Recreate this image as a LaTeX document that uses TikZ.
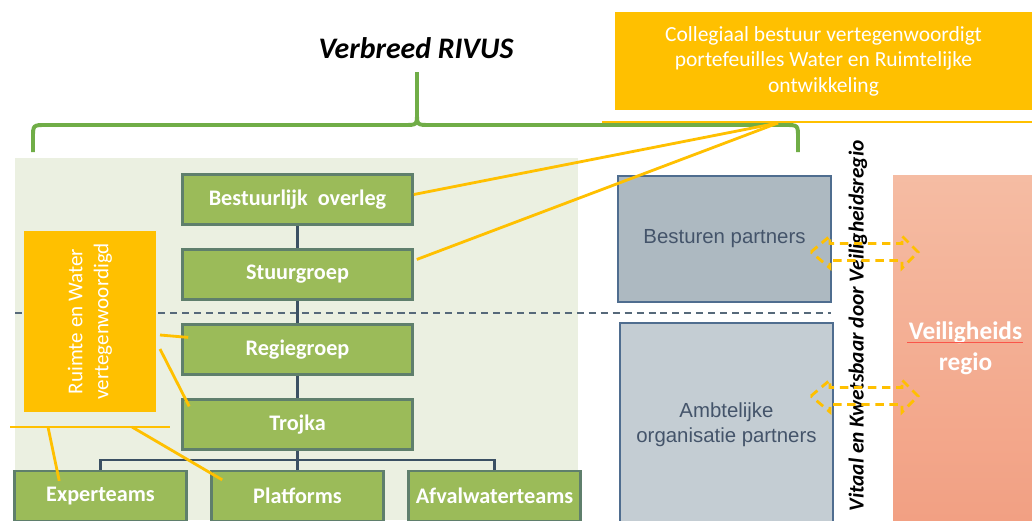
\documentclass[tikz,border=0pt]{standalone}
\usepackage{fontspec}
\setmainfont{Carlito}
\newfontfamily\arialfont{Liberation Sans}
\usepackage{xcolor}
\usetikzlibrary{arrows.meta, positioning, calc}

\definecolor{panelgreen}{HTML}{EBF0E1}
\definecolor{bracegreen}{HTML}{70AD47}
\definecolor{boxgreen}{HTML}{9BBB59}
\definecolor{boxline}{HTML}{5F7F6C}
\definecolor{linkslate}{HTML}{3B5063}
\definecolor{sepslate}{HTML}{56697A}
\definecolor{callyellow}{HTML}{FFC000}
\definecolor{partnerdark}{HTML}{ADB9C1}
\definecolor{partnerlight}{HTML}{C4CDD3}
\definecolor{partnerline}{HTML}{4F6D8F}
\definecolor{partnertext}{HTML}{44546A}
\definecolor{regiotop}{HTML}{F5BCA3}
\definecolor{regiobottom}{HTML}{F2A083}

\begin{document}
\begin{tikzpicture}[
  x=0.025cm, y=-0.025cm,
  node distance=5.6mm,
  orgbox/.style={
    rectangle,
    draw=boxline,
    line width=1.8pt,
    fill=boxgreen,
    text=white,
    font=\bfseries\fontsize{15.8}{18}\selectfont,
    minimum width=5.75cm,
    minimum height=1.25cm,
  },
  teambox/.style={
    orgbox,
    minimum width=4.3cm,
  },
  partner/.style={
    rectangle,
    draw=partnerline,
    line width=1.4pt,
    align=center,
    text=partnertext,
    font=\arialfont\fontsize{14.5}{18}\selectfont,
    minimum width=5.3cm,
  },
  callout/.style={
    rectangle,
    fill=callyellow,
    text=white,
    align=center,
    inner sep=0pt,
  },
  link/.style={draw=linkslate, line width=1.6pt},
  callline/.style={draw=callyellow, line width=2pt},
  brace/.style={draw=bracegreen, line width=2.8pt},
  sep/.style={draw=sepslate, line width=1.5pt, dash pattern=on 5pt off 3.5pt},
  dblarrow/.style={draw=callyellow, line width=2pt, dash pattern=on 6pt off 4pt},
]

\useasboundingbox[fill=white] (0,0) rectangle (1032,520);

% ===== BACKGROUND PANEL AND BRACE =====
\fill[panelgreen] (15,158) rectangle (578,520);

\node[font=\bfseries\itshape\fontsize{21.2}{25}\selectfont] (title) at (416,48) {Verbreed RIVUS};

\draw[brace] (33,152) -- (33,138) .. controls (33,125) .. (46,125) -- (404,125)
  .. controls (417,125) .. (417,113) -- (417,72);
\draw[brace] (417,113) .. controls (417,125) .. (430,125) -- (785,125)
  .. controls (798,125) .. (798,138) -- (798,152);

% dashed split between bestuurlijk and ambtelijk
\draw[sep] (15,313) -- (831,313);

% ===== ORGANISATION TREE =====
\node[orgbox] (bo) at (297.5,199.5) {Bestuurlijk\ \ overleg};
\node[orgbox, below=of bo] (sg) {Stuurgroep};
\node[orgbox, below=of sg] (rg) {Regiegroep};
\node[orgbox, below=of rg] (tj) {Trojka};

\node[teambox, below=4.8mm of tj] (pf) {Platforms};
\node[teambox, left=of pf] (ex) {Experteams};
\node[teambox, right=of pf] (aw) {Afvalwaterteams};

\draw[link] (bo) -- (sg);
\draw[link] (sg) -- (rg);
\draw[link] (rg) -- (tj);
\draw[link] (tj) -- (pf);
\coordinate (split) at ($(tj.south)!0.5!(pf.north)$);
\draw[link] (ex.north) |- (split) -| (aw.north);

% ===== PARTNERS AND VEILIGHEIDSREGIO =====
\node[partner, fill=partnerdark, minimum height=3.15cm] (bp) at (724.5,239) {Besturen partners};
\node[partner, fill=partnerlight, minimum height=5.1cm] (ao) at (726.5,425) {Ambtelijke\\organisatie partners};

\node[rotate=90, font=\bfseries\itshape\fontsize{15.2}{18}\selectfont] (vk) at (858,326)
  {Vitaal en Kwetsbaar door Veiligheidsregio};

\node[rectangle, top color=regiotop, bottom color=regiobottom, text=white, align=center,
  font=\bfseries\fontsize{18}{22}\selectfont, minimum width=3.62cm, minimum height=8.6cm]
  (vr) at (965.5,348) {Veiligheids\\regio};
\draw[red!55!regiotop, line width=0.6pt] (907,342) -- (1023,342);

\coordinate (da1) at (864.5,252);
\coordinate (da2) at (864.5,396);
\foreach \c in {da1,da2}
  \draw[dblarrow] ($(\c)+(-53.5,0)$) -- ++(19,-16) -- ++(0,7.5) -- ++(72,0) -- ++(0,-7.5)
    -- ++(16,16) -- ++(-16,16) -- ++(0,-7.5) -- ++(-72,0) -- ++(0,7.5) -- cycle;

% ===== YELLOW CALLOUTS =====
\node[callout, rotate=90, font=\fontsize{15}{18.5}\selectfont, minimum width=4.5cm, minimum height=3.3cm]
  (rw) at (90,321.5) {Ruimte en Water\\vertegenwoordigd};

\coordinate (rw1) at (160,335);
\coordinate (rw2) at (160,349);
\draw[callline] (rw1) -- ($(rg.west)+(7,-12)$);
\draw[callline] (rw2) -- ($(tj.west)+(8,-18)$);

\coordinate (bar) at (10,427);
\draw[callline] (bar) -- ++(160,0);
\draw[callline] (48,427) -- ($(ex.north west)+(46,11)$);
\draw[callline] (132,427) -- ($(pf.north west)+(12,10)$);

\node[callout, font=\fontsize{15.3}{18.2}\selectfont, minimum width=10.43cm, minimum height=2.47cm]
  (cb) at (823.5,61) {Collegiaal bestuur vertegenwoordigt\\
  portefeuilles Water en Ruimtelijke\\
  ontwikkeling};

\coordinate (cl) at (602,122);
\draw[callline] (cl) -- (cl -| cb.east);
\coordinate (cp) at (778,123);
\draw[callline] (cp) -- ($(bo.east)+(0,-5)$);
\draw[callline] (cp) -- ($(sg.east)+(3,-15)$);

\end{tikzpicture}
\end{document}
